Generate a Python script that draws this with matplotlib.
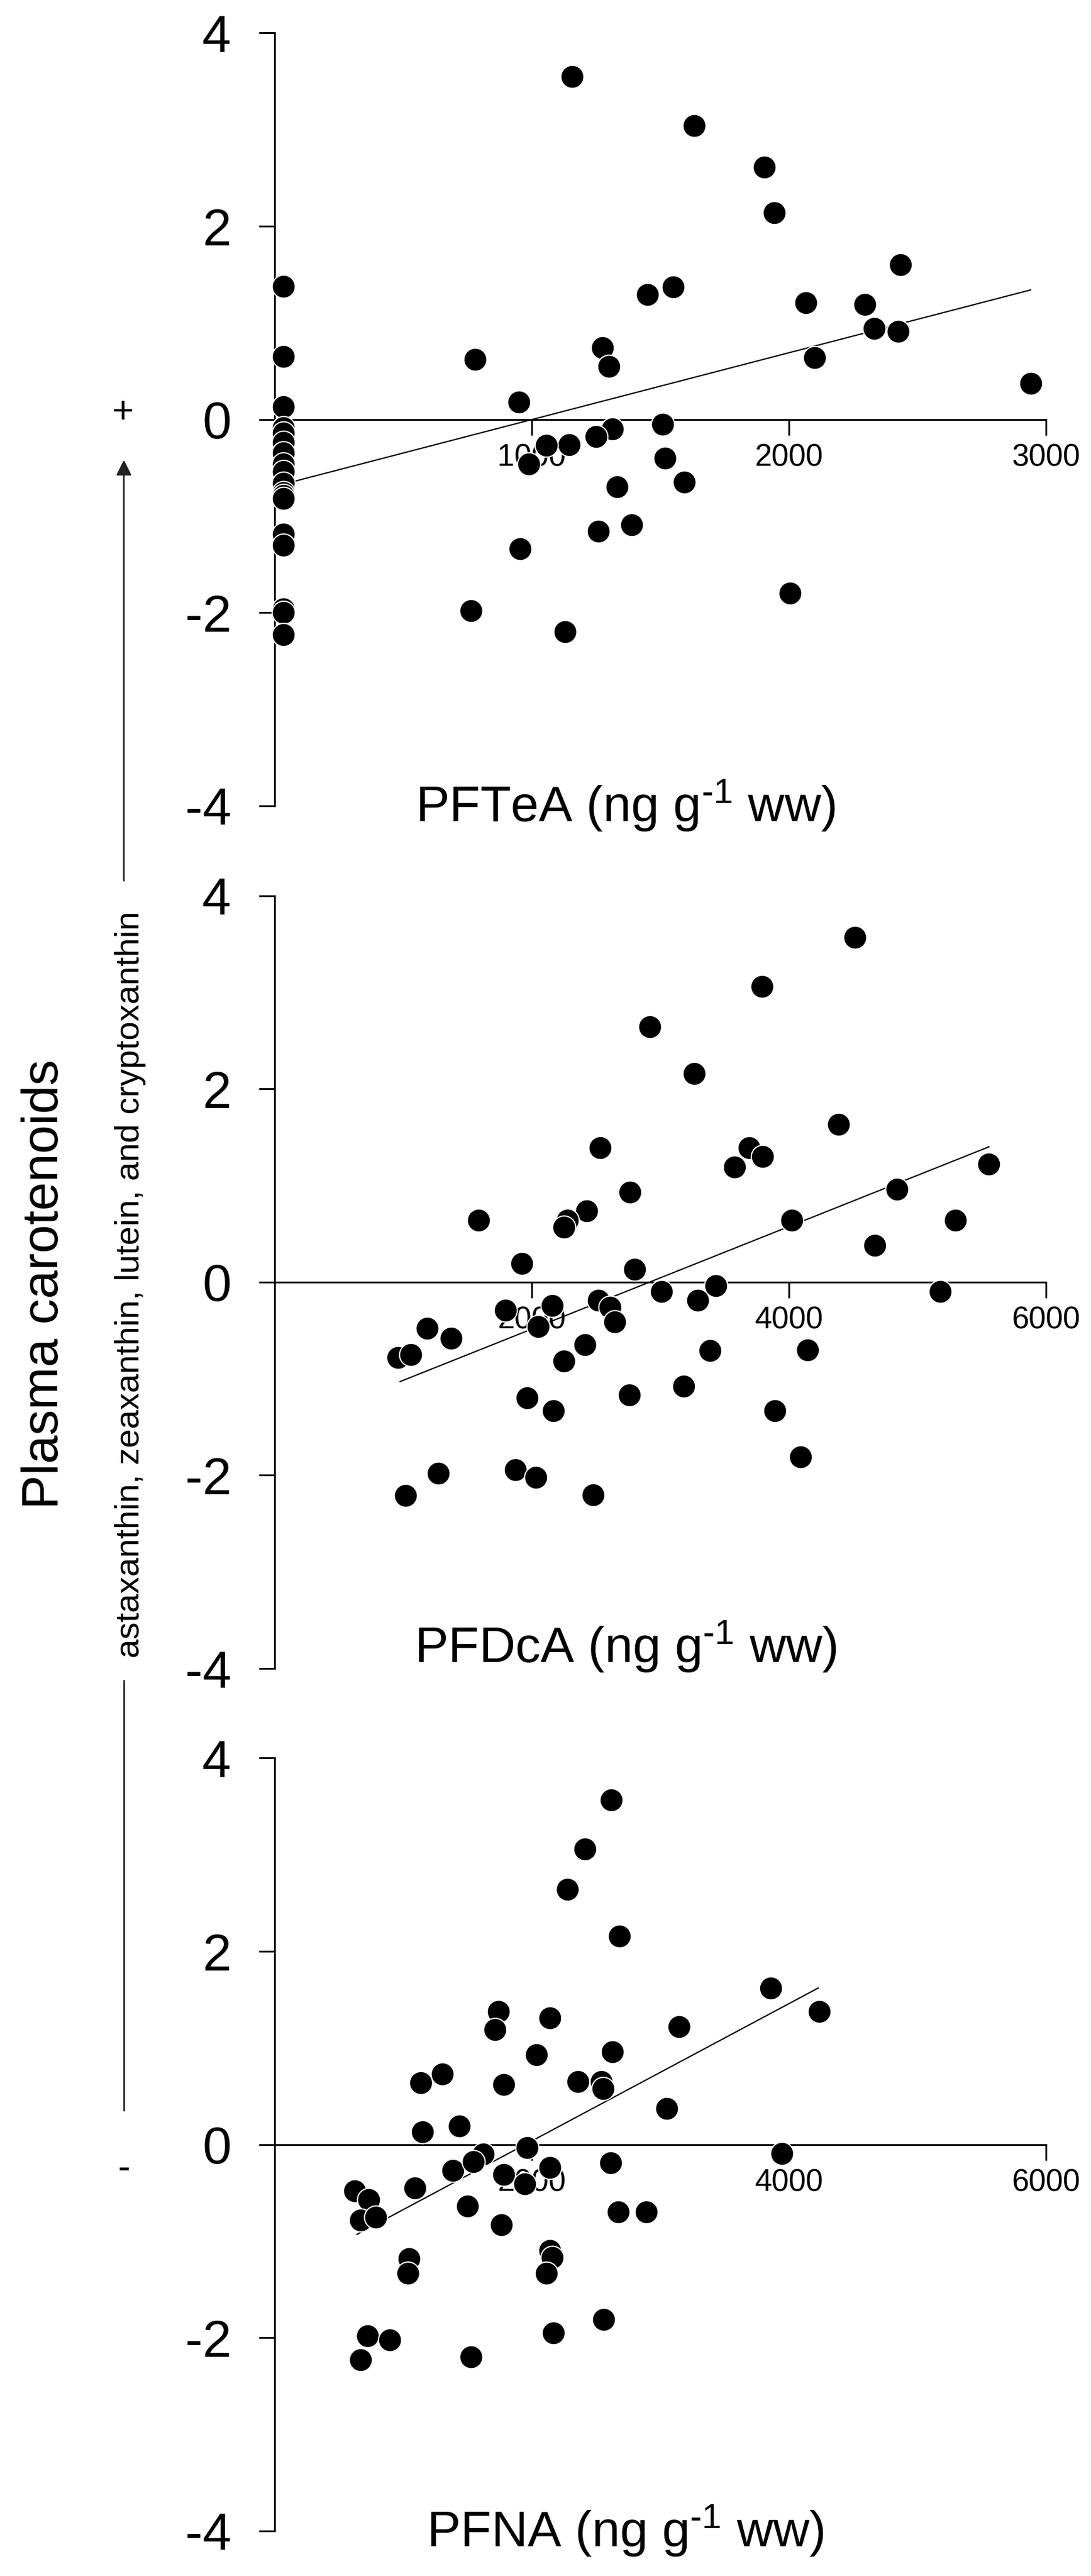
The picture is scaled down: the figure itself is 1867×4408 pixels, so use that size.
import matplotlib
matplotlib.use("Agg")
import matplotlib.pyplot as plt
from matplotlib.lines import Line2D
from matplotlib.patches import FancyArrowPatch

plt.rcParams['font.family'] = ['Liberation Sans', 'DejaVu Sans']
plt.rcParams['mathtext.fontset'] = 'custom'
plt.rcParams['mathtext.rm'] = 'Liberation Sans'
plt.rcParams['mathtext.default'] = 'regular'
plt.rcParams['axes.unicode_minus'] = False

# PFTeA panel (many birds below detection plotted at ~0)
pftea_x = [35] * 18 + [1157, 1631, 1905, 1943, 2434, 1550, 1450, 2065, 2295, 2331,
                       2425, 780, 1276, 1301, 2100, 2940, 951, 1509, 1314, 1249,
                       1146, 1057, 989, 1518, 1331, 1593, 1388, 1260, 954, 764,
                       1130, 2005]
pftea_y = [1.38, 0.65, 0.13, -0.09, -0.14, -0.24, -0.35, -0.46, -0.54, -0.66,
           -0.76, -0.79, -0.82, -1.19, -1.30, -1.96, -2.00, -2.23,
           3.55, 3.04, 2.61, 2.14, 1.60, 1.37, 1.29, 1.21, 1.19, 0.94,
           0.91, 0.62, 0.74, 0.55, 0.64, 0.37, 0.18, -0.05, -0.10, -0.18,
           -0.26, -0.27, -0.46, -0.40, -0.70, -0.65, -1.09, -1.16, -1.34, -1.98,
           -2.20, -1.80]

pfdca_x = [4515, 3789, 2916, 3263, 4385, 2531, 3691, 3794, 3577, 5556,
           2764, 4840, 2428, 2276, 2249, 1588, 4022, 5295, 4667, 1924,
           2802, 3008, 5176, 3431, 3290, 2520, 2607, 2157, 1794, 2049,
           2645, 1187, 1371, 959, 1057, 2412, 2249, 3388, 4146, 3182,
           1962, 2759, 2168, 3892, 4092, 1875, 2033, 1274, 1019, 2477]
pfdca_y = [3.57, 3.06, 2.64, 2.16, 1.63, 1.39, 1.39, 1.30, 1.19, 1.22,
           0.93, 0.96, 0.74, 0.64, 0.57, 0.64, 0.64, 0.64, 0.38, 0.19,
           0.13, -0.10, -0.10, -0.04, -0.19, -0.19, -0.26, -0.24, -0.29, -0.46,
           -0.41, -0.48, -0.58, -0.78, -0.75, -0.65, -0.82, -0.71, -0.70, -1.08,
           -1.20, -1.17, -1.33, -1.33, -1.81, -1.94, -2.02, -1.98, -2.21, -2.20]

pfna_x = [2618, 2412, 2276, 2683, 3859, 4238, 1740, 2141, 1713, 3144,
          2038, 2629, 1306, 1138, 1783, 2358, 2542, 2553, 3051, 1149,
          1436, 1962, 1621, 1388, 1545, 2141, 2612, 3946, 1089, 1783,
          1946, 623, 732, 667, 786, 1501, 2672, 2889, 1762, 2141,
          2157, 2114, 1046, 1035, 2558, 2168, 721, 894, 667, 1528]
pfna_y = [3.57, 3.06, 2.64, 2.16, 1.62, 1.38, 1.38, 1.31, 1.19, 1.22,
          0.93, 0.96, 0.73, 0.64, 0.62, 0.65, 0.65, 0.58, 0.37, 0.13,
          0.19, -0.03, -0.10, -0.27, -0.18, -0.24, -0.19, -0.09, -0.45, -0.31,
          -0.41, -0.48, -0.57, -0.78, -0.75, -0.64, -0.70, -0.70, -0.83, -1.10,
          -1.17, -1.33, -1.18, -1.33, -1.81, -1.95, -1.98, -2.02, -2.23, -2.20]

# fitted regression lines (end points)
fit_x = [[35, 2940], [976, 5556], [640, 4228]]
fit_y = [[-0.67, 1.34], [-1.03, 1.40], [-0.93, 1.62]]

xlabels = ['PFTeA', 'PFDcA', 'PFNA']
xlims = [3000, 6000, 6000]
xticks = [[1000, 2000, 3000], [2000, 4000, 6000], [2000, 4000, 6000]]
yticks = [-4, -2, 0, 2, 4]

W, H = 1867, 4408
fig = plt.figure(figsize=(W / 100, H / 100), dpi=100)

bottoms = [0.6872, 0.3523, 0.0175]
label_off = [0.0, 0.028, 0.0]
xs = [pftea_x, pfdca_x, pfna_x]
ys = [pftea_y, pfdca_y, pfna_y]

for i in range(3):
    ax = fig.add_axes([470 / W, bottoms[i], 0.7070, 0.3])
    ax.set_xlim(0, xlims[i])
    ax.set_ylim(-4, 4)
    for s in ['top', 'right']:
        ax.spines[s].set_visible(False)
    ax.spines['bottom'].set_position(('data', 0))
    ax.spines['left'].set_linewidth(2.2)
    ax.spines['bottom'].set_linewidth(2.2)
    ax.set_xticks(xticks[i])
    ax.set_yticks(yticks)
    ax.tick_params(axis='y', length=19.4, width=2.2, pad=34, labelsize=64)
    ax.tick_params(axis='x', length=19.4, width=2.2, pad=10, labelsize=38)
    ax.plot(fit_x[i], fit_y[i], color='black', lw=1.6, zorder=3)
    ax.plot(xs[i], ys[i], 'o', ms=28.5, mfc='black', mec='white', mew=1.5,
            zorder=4, clip_on=False)
    ax.text(0.455, label_off[i], xlabels[i] + r' (ng g$^{\text{-}1}$ ww)',
            transform=ax.transAxes, ha='center', va='center', fontsize=62)
    ax.patch.set_visible(False)

# shared y label with direction arrow
fig.text(77 / W, 1 - 2197 / H, 'Plasma carotenoids', rotation=90,
         ha='center', va='center', fontsize=63)
fig.text(223 / W, 1 - 2198 / H, 'astaxanthin, zeaxanthin, lutein, and cryptoxanthin',
         rotation=90, ha='center', va='center', fontsize=42)
arrow = FancyArrowPatch((212 / W, 1 - 1507 / H), (212 / W, 1 - 787 / H),
                        transform=fig.transFigure, arrowstyle='-|>',
                        mutation_scale=40, color='#222222', lw=2,
                        shrinkA=0, shrinkB=0)
fig.add_artist(arrow)
fig.add_artist(Line2D([212 / W, 212 / W], [1 - 2876 / H, 1 - 3611 / H],
                      transform=fig.transFigure, color='#222222', lw=2))
fig.text(210 / W, 1 - 707 / H, '+', ha='center', va='center', fontsize=46)
fig.text(212 / W, 1 - 3712 / H, '-', ha='center', va='center', fontsize=46)

fig.savefig('out.png', dpi=100, facecolor='white')
